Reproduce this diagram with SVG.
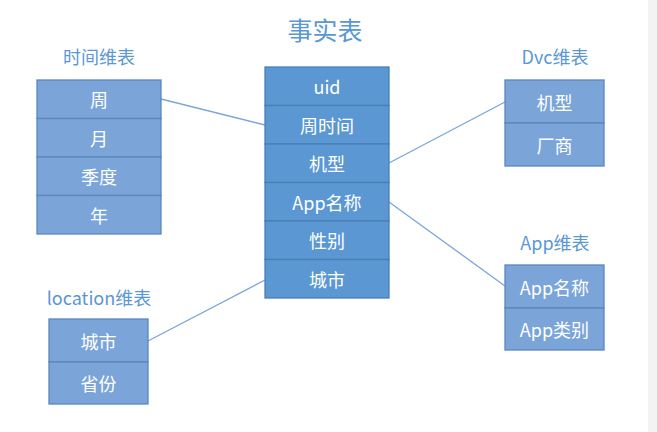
<svg xmlns="http://www.w3.org/2000/svg" width="657" height="432" viewBox="0 0 657 432">
<style>
.fact{fill:#5b97d3;stroke:#4a7fb5;stroke-width:1.3}
.dim{fill:#7ba5d8;stroke:#5a87bd;stroke-width:1.3}
.cell{fill:#ffffff;font-family:"Noto Sans CJK SC","Liberation Sans",sans-serif;font-size:18px;text-anchor:middle;dominant-baseline:central}
.ttl{fill:#5b97d3;font-family:"Noto Sans CJK SC","Liberation Sans",sans-serif;font-size:18px;text-anchor:middle}
.conn line{stroke:#7ba5d8;stroke-width:1.3}
</style>
<rect x="0" y="0" width="657" height="432" fill="#ffffff"/>
<rect x="648" y="0" width="9" height="432" fill="#f3f3f3"/>
<g id="title"><text class="ttl" x="325" y="40" style="font-size:25px">事实表</text></g>
<g class="conn" id="connectors">
<line x1="161" y1="99" x2="265" y2="125"/>
<line x1="389" y1="163" x2="505" y2="102"/>
<line x1="389" y1="202" x2="505" y2="286"/>
<line x1="148" y1="341" x2="265" y2="280"/>
</g>
<g id="fact">
<rect class="fact" x="265" y="67" width="124" height="38.5"/>
<rect class="fact" x="265" y="105.5" width="124" height="38.5"/>
<rect class="fact" x="265" y="144" width="124" height="38.5"/>
<rect class="fact" x="265" y="182.5" width="124" height="38.5"/>
<rect class="fact" x="265" y="221" width="124" height="38.5"/>
<rect class="fact" x="265" y="259.5" width="124" height="38.5"/>
<text class="cell" x="327" y="86">uid</text>
<text class="cell" x="327" y="124.5">周时间</text>
<text class="cell" x="327" y="163">机型</text>
<text class="cell" x="327" y="201.5">App名称</text>
<text class="cell" x="327" y="240">性别</text>
<text class="cell" x="327" y="278.5">城市</text>
</g>
<g id="time">
<text class="ttl" x="99" y="64">时间维表</text>
<rect class="dim" x="37" y="80" width="124" height="38.5"/>
<rect class="dim" x="37" y="118.5" width="124" height="38.5"/>
<rect class="dim" x="37" y="157" width="124" height="38.5"/>
<rect class="dim" x="37" y="195.5" width="124" height="38.5"/>
<text class="cell" x="99" y="99">周</text>
<text class="cell" x="99" y="137.5">月</text>
<text class="cell" x="99" y="176">季度</text>
<text class="cell" x="99" y="214.5">年</text>
</g>
<g id="dvc">
<text class="ttl" x="555" y="64">Dvc维表</text>
<rect class="dim" x="505" y="80" width="99" height="43"/>
<rect class="dim" x="505" y="123" width="99" height="43"/>
<text class="cell" x="554.5" y="101.5">机型</text>
<text class="cell" x="554.5" y="144.5">厂商</text>
</g>
<g id="app">
<text class="ttl" x="555" y="250">App维表</text>
<rect class="dim" x="505" y="265" width="99" height="43"/>
<rect class="dim" x="505" y="308" width="99" height="42"/>
<text class="cell" x="554.5" y="286.5">App名称</text>
<text class="cell" x="554.5" y="329">App类别</text>
</g>
<g id="location">
<text class="ttl" x="99" y="305">location维表</text>
<rect class="dim" x="49" y="319" width="99" height="43"/>
<rect class="dim" x="49" y="362" width="99" height="42"/>
<text class="cell" x="98.5" y="340.5">城市</text>
<text class="cell" x="98.5" y="383">省份</text>
</g>
</svg>
